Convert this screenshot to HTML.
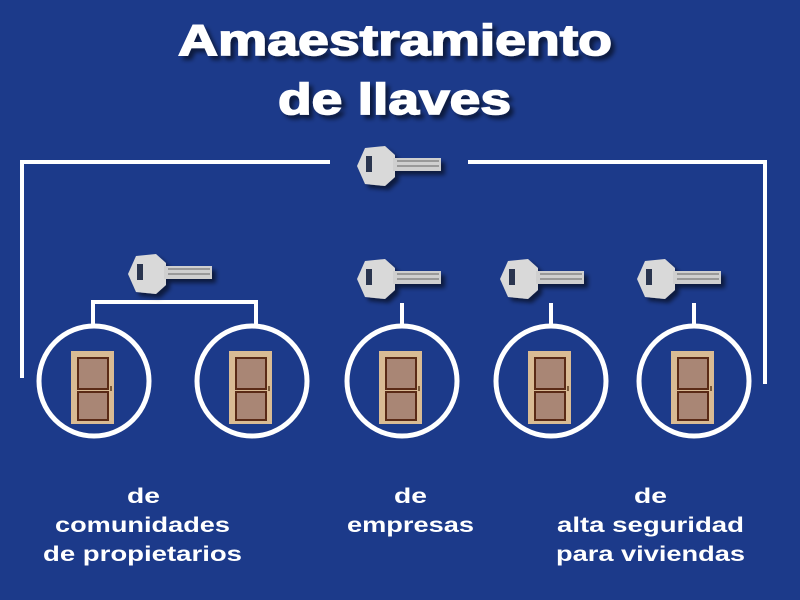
<!DOCTYPE html>
<html><head><style>
body{margin:0;width:800px;height:600px;background:#1c3a8a;overflow:hidden;font-family:"Liberation Sans",Arial,sans-serif;}
svg{position:absolute;left:0;top:0}
</style></head><body>
<svg width="800" height="600" viewBox="0 0 800 600">
<defs>
<filter id="sh" x="-20%" y="-20%" width="150%" height="160%"><feDropShadow dx="4" dy="4" stdDeviation="2" flood-color="#000" flood-opacity="0.55"/></filter>
<g id="key">
<polygon points="0,20 8,2 28,0 38,9 38,31 28,40 8,38" fill="#d9d9d9"/>
<rect x="36" y="12" width="48" height="13" fill="#cfcfcf"/>
<rect x="40" y="14" width="42" height="2" fill="#999"/>
<rect x="40" y="19" width="42" height="2" fill="#999"/>
<rect x="9" y="10" width="6" height="16" fill="#2a3450"/>
</g>
<g id="door">
<rect x="-22" y="-30" width="43" height="73" fill="#d9bb94"/>
<rect x="-15" y="-23" width="30" height="31" fill="#a98675" stroke="#5a2a16" stroke-width="2"/>
<rect x="-15" y="11" width="30" height="28" fill="#a98675" stroke="#5a2a16" stroke-width="2"/>
<rect x="17" y="5" width="2" height="5" fill="#7a5a3a"/>
</g>
</defs>
<g fill="none" stroke="#fff" stroke-width="4">
<polyline points="22,378 22,162 330,162"/>
<polyline points="468,162 765,162 765,384"/>
<polyline points="93,326 93,302 256,302 256,326"/>
<line x1="402" y1="303" x2="402" y2="326"/>
<line x1="551" y1="303" x2="551" y2="326"/>
<line x1="694" y1="303" x2="694" y2="326"/>
<g stroke-width="5">
<circle cx="94" cy="381" r="55"/>
<circle cx="252" cy="381" r="55"/>
<circle cx="402" cy="381" r="55"/>
<circle cx="551" cy="381" r="55"/>
<circle cx="694" cy="381" r="55"/>
</g>
</g>
<g filter="url(#sh)">
<use href="#key" x="357" y="146"/>
<use href="#key" x="128" y="254"/>
<use href="#key" x="357" y="259"/>
<use href="#key" x="500" y="259"/>
<use href="#key" x="637" y="259"/>
</g>
<use href="#door" x="93" y="381"/>
<use href="#door" x="251" y="381"/>
<use href="#door" x="401" y="381"/>
<use href="#door" x="550" y="381"/>
<use href="#door" x="693" y="381"/>
<g fill="#fff" stroke="#fff" stroke-width="1.5" font-weight="bold" filter="url(#sh)" font-size="44" font-family="Liberation Sans, Arial, sans-serif">
<text x="178" y="55" textLength="434" lengthAdjust="spacingAndGlyphs">Amaestramiento</text>
<text x="278" y="114" textLength="233" lengthAdjust="spacingAndGlyphs">de llaves</text>
</g>
<g fill="#fff" font-weight="bold" font-size="21" font-family="Liberation Sans, Arial, sans-serif" lengthAdjust="spacingAndGlyphs">
<text x="127" y="503" textLength="33" lengthAdjust="spacingAndGlyphs">de</text>
<text x="55" y="532" textLength="175" lengthAdjust="spacingAndGlyphs">comunidades</text>
<text x="43" y="561" textLength="199" lengthAdjust="spacingAndGlyphs">de propietarios</text>
<text x="394" y="503" textLength="33" lengthAdjust="spacingAndGlyphs">de</text>
<text x="347" y="532" textLength="127" lengthAdjust="spacingAndGlyphs">empresas</text>
<text x="634" y="503" textLength="33" lengthAdjust="spacingAndGlyphs">de</text>
<text x="557" y="532" textLength="187" lengthAdjust="spacingAndGlyphs">alta seguridad</text>
<text x="556" y="561" textLength="189" lengthAdjust="spacingAndGlyphs">para viviendas</text>
</g>
</svg>
</body></html>
